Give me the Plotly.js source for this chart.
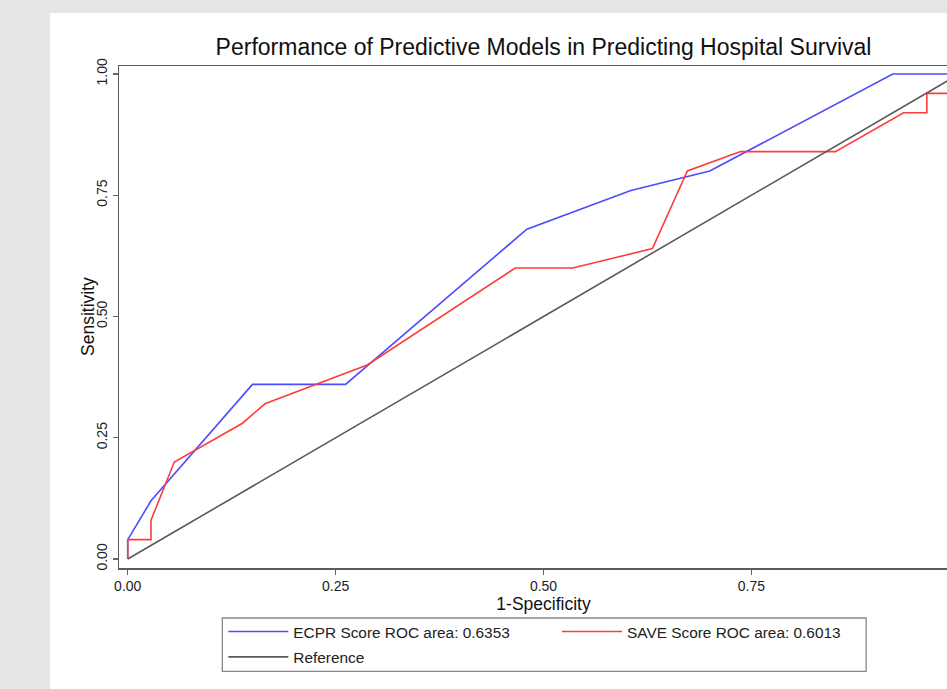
<!DOCTYPE html>
<html><head><meta charset="utf-8">
<script src="https://cdn.plot.ly/plotly-3.0.1.min.js"></script>
<style>
html,body{margin:0;padding:0;background:#e6e6e6;overflow:hidden;width:947px;height:689px;}
#chart{position:absolute;left:50px;top:13px;width:1000px;height:676px;background:#fff;}
</style></head><body><div id="chart"></div>
<script>
// ECPR Score ROC curve
const ecprX = [0, 0, 0.028, 0.15, 0.262, 0.48, 0.605, 0.70, 0.92, 1.0];
const ecprY = [0, 0.04, 0.12, 0.36, 0.36, 0.68, 0.76, 0.80, 1.0, 1.0];
// SAVE Score ROC curve
const saveX = [0, 0, 0.028, 0.028, 0.056, 0.138, 0.165, 0.288, 0.466, 0.535, 0.631, 0.673, 0.737, 0.851, 0.933, 0.961, 0.961, 1.0, 1.0];
const saveY = [0, 0.04, 0.04, 0.08, 0.20, 0.28, 0.32, 0.40, 0.60, 0.60, 0.64, 0.80, 0.84, 0.84, 0.92, 0.92, 0.96, 0.96, 1.0];
// Reference diagonal
const refX = [0, 1];
const refY = [0, 1];
// x tick at 1.00 lies outside the visible window in the reference
const xTickVals = [0, 0.25, 0.5, 0.75];
const xTickLabels = ['0.00', '0.25', '0.50', '0.75'];
const yTickVals = [0, 0.25, 0.5, 0.75, 1];
const yTickLabels = ['0.00', '0.25', '0.50', '0.75', '1.00'];
const names = ['ECPR Score ROC area: 0.6353', 'SAVE Score ROC area: 0.6013', 'Reference'];
const yTitle = 'Sensitivity';
const xTitle = '1-Specificity';
const chartTitle = 'Performance of Predictive Models in Predicting Hospital Survival';

const FONT = 'Liberation Sans, Arial, sans-serif';
const traces = [
  {x: ecprX, y: ecprY, mode: 'lines', name: names[0], line: {color: '#4b4bff', width: 1.6}, legend: 'legend'},
  {x: saveX, y: saveY, mode: 'lines', name: names[1], line: {color: '#ff3c3c', width: 1.6}, legend: 'legend2'},
  {x: refX, y: refY, mode: 'lines', name: names[2], line: {color: '#5a5a5a', width: 1.6}, legend: 'legend3'}
];
const axisCommon = {
  ticks: 'outside', ticklen: 5, tickcolor: '#666', tickwidth: 1.2,
  showline: true, mirror: true, linecolor: '#5a5a5a', linewidth: 1.5, showgrid: false, zeroline: false,
  tickfont: {family: FONT, size: 14, color: '#222'}, automargin: false
};
const legCommon = {bgcolor: 'rgba(0,0,0,0)', borderwidth: 0, font: {family: FONT, size: 15.4, color: '#222'},
  xanchor: 'left', yanchor: 'middle', itemwidth: 60, orientation: 'v'};
const layout = {
  width: 1000, height: 676,
  margin: {l: 69, r: 82, t: 53, b: 121},
  paper_bgcolor: '#ffffff', plot_bgcolor: '#ffffff',
  font: {family: FONT, color: '#222'},
  title: {text: chartTitle,
    font: {family: FONT, size: 23, color: '#111'}, x: 0.5, xref: 'paper', xanchor: 'center',
    y: 1 - 34/676, yref: 'container', yanchor: 'middle'},
  xaxis: Object.assign({}, axisCommon, {range: [-0.0105, 1.0105], tickvals: xTickVals, ticktext: xTickLabels,
    title: {text: xTitle, font: {family: FONT, size: 17.5, color: '#111'}, standoff: 1}}),
  yaxis: Object.assign({}, axisCommon, {range: [-0.0185, 1.0165], tickangle: -90, tickvals: yTickVals, ticktext: yTickLabels}),
  annotations: [{text: yTitle, xref: 'paper', yref: 'paper', x: 0, y: 0.5, xshift: -31, textangle: -90,
    xanchor: 'center', yanchor: 'middle', showarrow: false, font: {family: FONT, size: 17.5, color: '#111'}}],
  showlegend: true,
  legend: Object.assign({}, legCommon, {x: 0.1229, y: -0.1275}),
  legend2: Object.assign({}, legCommon, {x: 0.5159, y: -0.1275}),
  legend3: Object.assign({}, legCommon, {x: 0.1229, y: -0.178}),
  shapes: [{type: 'rect', xref: 'paper', yref: 'paper', x0: 0.1217, x1: 0.880, y0: -0.206, y1: -0.0996,
    line: {color: '#888', width: 1.3}, fillcolor: 'rgba(0,0,0,0)'}],
  hovermode: false
};
Plotly.newPlot('chart', traces, layout, {staticPlot: true, displayModeBar: false});
</script></body></html>
